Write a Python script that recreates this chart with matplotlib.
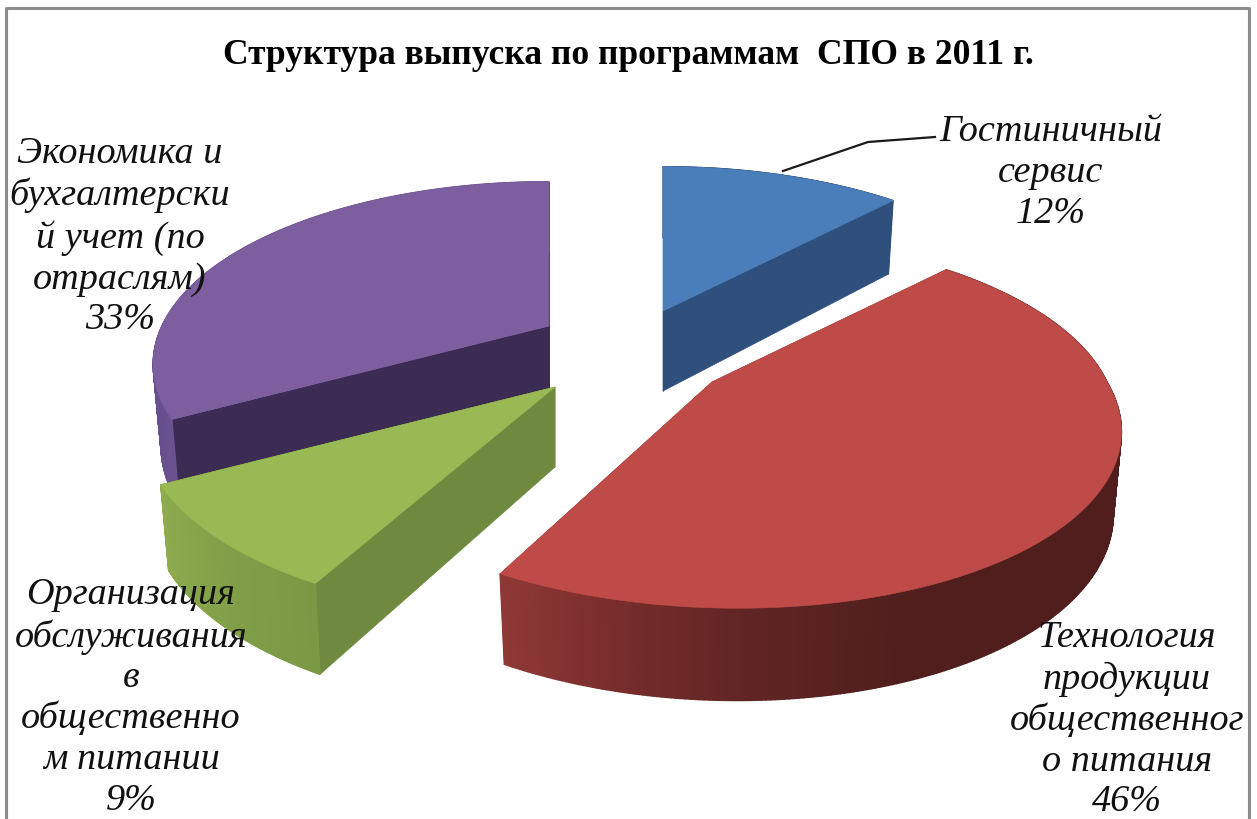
import numpy as np
import matplotlib
matplotlib.use("Agg")
import matplotlib.pyplot as plt
from matplotlib.colors import LinearSegmentedColormap
from matplotlib.patches import Polygon

# ─── DATA ─────────────────────────────────────────────────────────────────────

TITLE = "Структура выпуска по программам  СПО в 2011 г."
CATEGORIES = [
    "Гостиничный\nсервис",
    "Технология\nпродукции\nобщественног\nо питания",
    "Организация\nобслуживания\nв\nобщественно\nм питании",
    "Экономика и\nбухгалтерски\nй учет (по\nотраслям)",
]
VALUES = [12, 46, 9, 33]

# ─── STYLE ────────────────────────────────────────────────────────────────────

TOP_COLORS = ["#4a7ebb", "#be4b48", "#98b954", "#7d5fa0"]
CUT_COLORS = ["#2f4f7c", "#7a2e2c", "#6f8a3e", "#3c2b52"]
RIM_COLORS = [
    [(0, "#2f4f7c"), (1, "#2f4f7c")],
    [(0, "#4f1f1c"), (0.71, "#501f1d"), (0.83, "#622624"), (0.92, "#7a2e2c"), (1, "#8f3937")],
    [(0, "#7b9845"), (0.5, "#82a048"), (1, "#8eac4e")],
    [(0, "#6a5190"), (1, "#5f4884")],
]
ORIGINS = [(663, 312), (712, 383), (555, 388), (549, 327)]  # slice apex, px
SCALES = [0.98, 1.0, 1.02, 0.98]   # radius per slice
SHEARS = [0, 0.115, 0, 0]          # near side of the big slice leans right
LABEL_POS = [(1051, 173), (1127, 720), (131, 698), (120, 237)]
DRAW_ORDER = [0, 3, 2, 1]

RADIUS = 395
TILT = 178 / 395
PERSP = 0.213
DEPTH = 80
BOTTOM_SHRINK = 0.98
LABEL_SIZE = 27.5


def project(theta, origin, scale, shear):
    # theta is clockwise from the top of the pie
    x = RADIUS * scale * np.sin(theta)
    y = RADIUS * scale * np.cos(theta)
    s = 1 / (1 + PERSP * y / RADIUS)
    dy = y * s * TILT
    dx = x * s + shear * np.maximum(0, -dy)
    return dx, -dy, s


def draw_slice(ax, start, end, origin, scale, shear, top, cut, rim):
    theta = np.linspace(start, end, 300)
    dx, dy, s = project(theta, origin, scale, shear)
    px, py = origin[0] + dx, origin[1] + dy
    # the lower ring sits a little closer to the centre
    bx = origin[0] + dx * BOTTOM_SHRINK
    by = py + DEPTH * s ** 0.6

    # cut faces
    for k in (0, -1):
        ax.add_patch(Polygon(
            [origin, (px[k], py[k]), (bx[k], by[k]), (origin[0], origin[1] + DEPTH)],
            closed=True, fc=cut, ec=cut, lw=0.5))

    # outer rim, one quad per step for the gradient
    cmap = LinearSegmentedColormap.from_list("rim", rim)
    n = len(theta) - 1
    for i in range(n):
        c = cmap(i / n)
        ax.add_patch(Polygon(
            [(px[i], py[i]), (px[i + 1], py[i + 1]),
             (bx[i + 1], by[i + 1]), (bx[i], by[i])],
            closed=True, fc=c, ec=c, lw=1.0))

    # top face
    pts = [origin] + list(zip(px, py))
    ax.add_patch(Polygon(pts, closed=True, fc=top, ec=top, lw=0.5))


# ─── MAIN ─────────────────────────────────────────────────────────────────────

fig = plt.figure(figsize=(12.57, 8.2), dpi=100)
ax = fig.add_axes([0, 0, 1, 1])
ax.set_xlim(0, 1257)
ax.set_ylim(820, 0)
ax.axis("off")

# chart frame
ax.plot([6, 6, 1249, 1249], [825, 9, 9, 825], color="#8c8c8c", lw=2.2)

edges = np.cumsum([0] + VALUES) / sum(VALUES) * 2 * np.pi
for i in DRAW_ORDER:
    draw_slice(ax, edges[i], edges[i + 1], ORIGINS[i], SCALES[i], SHEARS[i],
               TOP_COLORS[i], CUT_COLORS[i], RIM_COLORS[i])

# leader line of the first label
ax.plot([783, 868, 935], [172, 143, 138], color="#1a1a1a", lw=1.6)

ax.text(628, 55, TITLE, ha="center", va="center", fontsize=25.6,
        fontweight="bold", family="Liberation Serif", color="black")

for name, val, (lx, ly) in zip(CATEGORIES, VALUES, LABEL_POS):
    ax.text(lx, ly, f"{name}\n{val}%", ha="center", va="center",
            fontsize=LABEL_SIZE, style="italic", family="Liberation Serif",
            color="#111111", linespacing=1.24)

plt.savefig("out.png", dpi=100)
